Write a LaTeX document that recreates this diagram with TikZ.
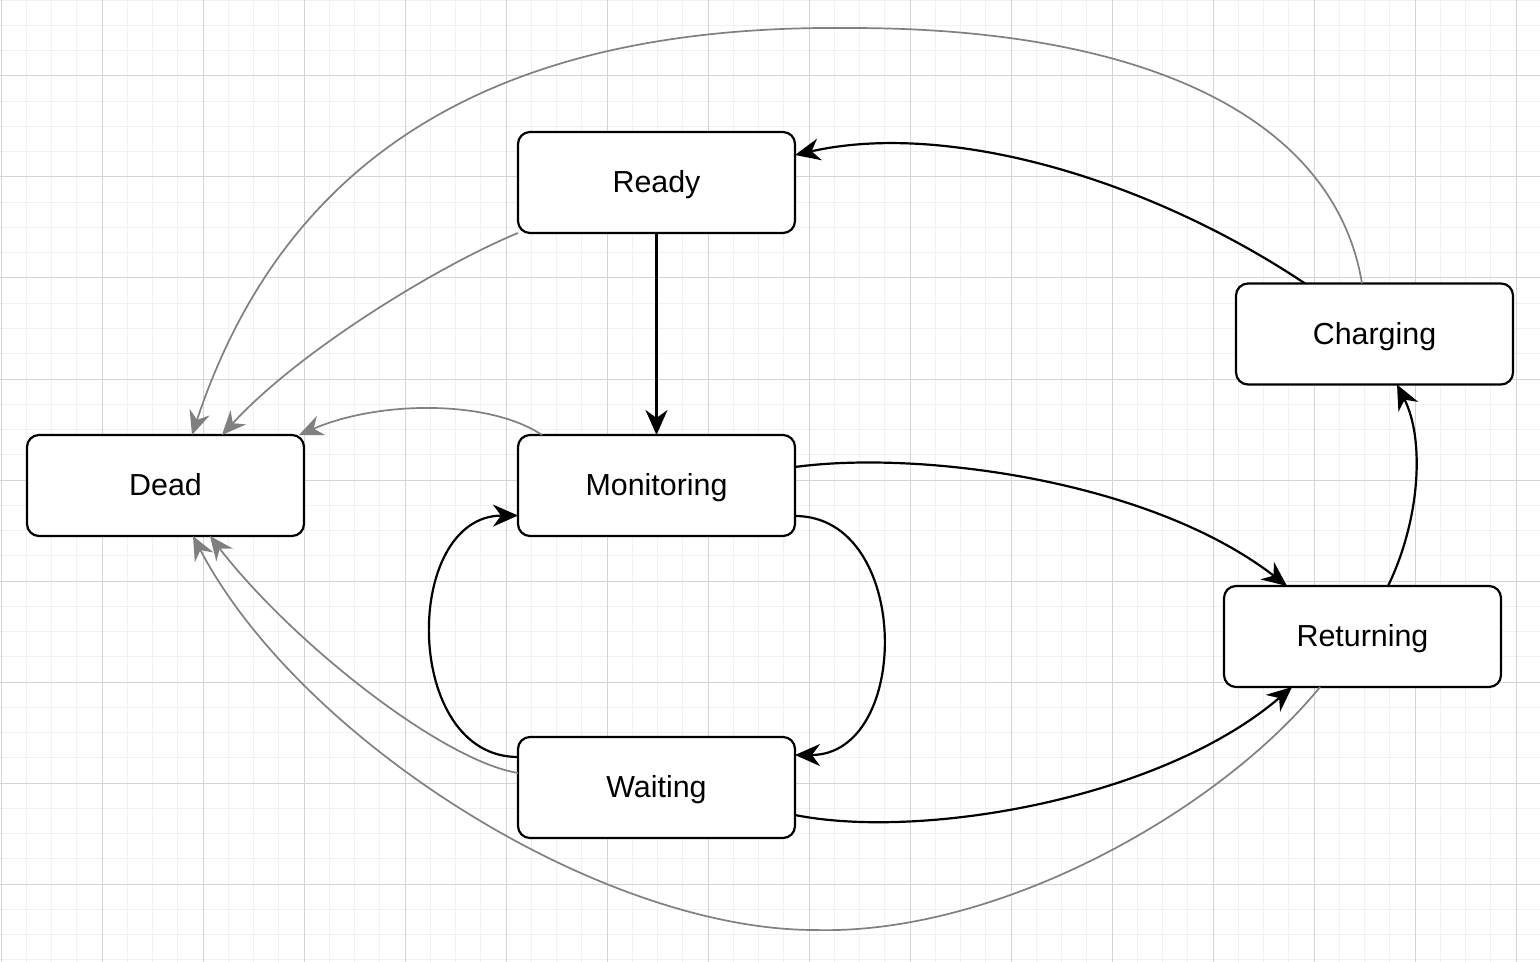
\documentclass[tikz,border=0pt]{standalone}
\usepackage{fontspec}
\setmainfont{Liberation Sans}
\usetikzlibrary{arrows.meta,positioning,calc}

\definecolor{failgray}{HTML}{808080}
\definecolor{minorgrid}{HTML}{F1F1F1}
\definecolor{majorgrid}{HTML}{D4D4D4}

\begin{document}
\begin{tikzpicture}[
    x=0.5pt, y=-0.5pt,
    state/.style={
      rectangle,
      draw=black,
      line width=1.1pt,
      fill=white,
      rounded corners=6pt,
      minimum width=138.5pt,
      minimum height=50.5pt,
      inner sep=0pt,
      outer sep=0pt,
      text height=10pt,
      text depth=0pt,
      font=\fontsize{15.2pt}{18pt}\selectfont},
    trans/.style={draw=black, line width=1.1pt, -{Stealth[length=12.5pt,width=11pt,inset=4pt]}},
    fail/.style={draw=failgray, line width=0.85pt, -{Stealth[length=12pt,width=10.5pt,inset=4pt]}},
    minorline/.style={draw=minorgrid, line width=0.5pt},
    majorline/.style={draw=majorgrid, line width=0.5pt},
    node distance=101pt and 107pt
  ]
  \useasboundingbox[fill=white] (0,0) rectangle (1540,962);

  % background grid
  \foreach \i in {0,...,61}
    \draw[minorline] ({1+25.25*\i},0) -- ({1+25.25*\i},962);
  \foreach \i in {1,...,39}
    \draw[minorline] (0,{-25+25.25*\i}) -- (1540,{-25+25.25*\i});
  \foreach \i in {0,...,15}
    \draw[majorline] ({1+101*\i},0) -- ({1+101*\i},962);
  \foreach \i in {1,...,9}
    \draw[majorline] (0,{-25+101*\i}) -- (1540,{-25+101*\i});

  % states
  \node[state] (Monitoring) at (656.5,485.5) {Monitoring};
  \node[state, above=of Monitoring] (Ready) {Ready};
  \node[state, left=of Monitoring] (Dead) {Dead};
  \node[state, below=100.5pt of Monitoring] (Waiting) {Waiting};
  \node[state] (Charging) at (1374.5,334) {Charging};
  \node[state] (Returning) at (1362.5,636.5) {Returning};

  % normal transitions
  \draw[trans] (Ready.south) -- (Monitoring.north);
  \draw[trans] ($(Charging.north)+(-69.5,0)$) .. controls (1150,180) and (950,120) .. ($(Ready.east)+(0,-27.5)$);
  \draw[trans] ($(Monitoring.east)+(0,-18.5)$) .. controls (920,450) and (1150,480) .. ($(Returning.north)+(-75.5,0)$);
  \draw[trans] ($(Monitoring.east)+(0,30.5)$) .. controls (912,516) and (912,755) .. ($(Waiting.east)+(0,-32.5)$);
  \draw[trans] ($(Waiting.west)+(0,-30.5)$) .. controls (402,757) and (402,516) .. ($(Monitoring.west)+(0,30)$);
  \draw[trans] ($(Waiting.east)+(0,27.5)$) .. controls (920,840) and (1160,800) .. ($(Returning.south)+(-70.5,0)$);
  \draw[trans] ($(Returning.north)+(25.5,0)$) .. controls (1420,520) and (1425,440) .. ($(Charging.south)+(22.5,0)$);

  % transitions to Dead
  \draw[fail] ($(Charging.north)+(-12.5,0)$) .. controls (1335,120) and (1150,28) .. (850,28)
    .. controls (560,25) and (300,110) .. ($(Dead.north)+(26.5,0)$);
  \draw[fail] (Ready.south west) .. controls (440,265) and (300,350) .. ($(Dead.north)+(56.5,0)$);
  \draw[fail] ($(Monitoring.north west)+(24,0)$) .. controls (490,400) and (380,400) .. ($(Dead.north east)+(-5,0)$);
  \draw[fail] ($(Waiting.west)+(0,-14.5)$) .. controls (440,760) and (290,640) .. ($(Dead.south)+(44.5,0)$);
  \draw[fail] ($(Returning.south)+(-42.5,0)$) .. controls (1220,810) and (1000,935) .. (815,930)
    .. controls (600,930) and (300,740) .. ($(Dead.south)+(27.5,0)$);
\end{tikzpicture}
\end{document}
